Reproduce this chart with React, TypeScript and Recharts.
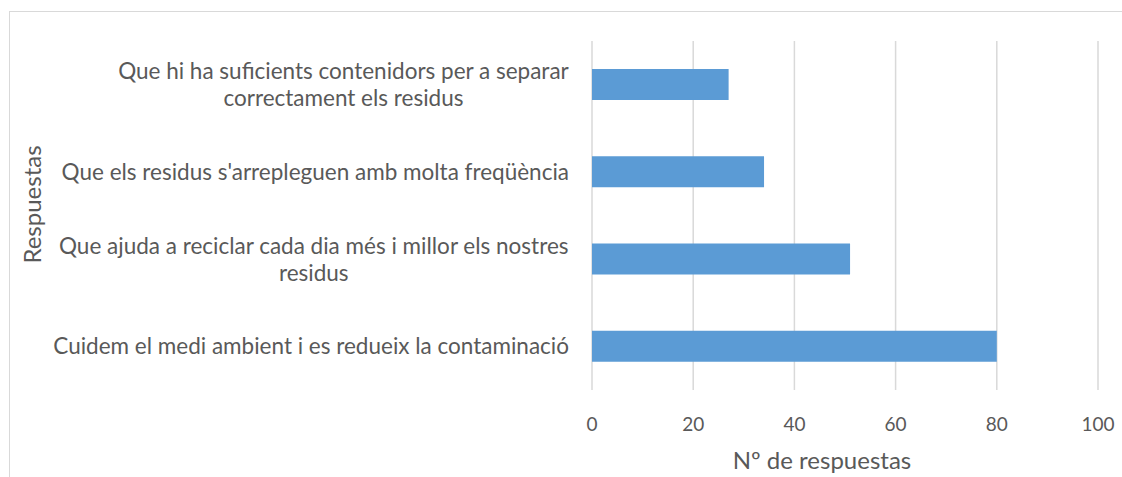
import React from 'react';
import { BarChart, Bar, XAxis, YAxis, CartesianGrid } from 'recharts';

const categories = [
  'Que hi ha suficients contenidors per a separar\ncorrectament els residus',
  "Que els residus s'arrepleguen amb molta freqüència",
  'Que ajuda a reciclar cada dia més i millor els nostres\nresidus',
  'Cuidem el medi ambient i es redueix la contaminació',
];
const responses = [27, 34, 51, 80];
const xTicks = [0, 20, 40, 60, 80, 100];

const data = categories.map((name, i) => ({ name, value: responses[i] }));

const FONT = 'Lato, "Open Sans", sans-serif';
const TEXT = '#595959';
const LABEL_SIZE = 22.5;
const TICK_SIZE = 19;
const TITLE_SIZE = 24;

let ctx: CanvasRenderingContext2D | null = null;
const measure = (s: string, size: number) => {
  if (!ctx) ctx = document.createElement('canvas').getContext('2d');
  if (!ctx) return s.length * size * 0.5;
  ctx.font = `${size}px ${FONT}`;
  return ctx.measureText(s).width;
};

const CategoryTick = ({ x, y, payload }: any) => {
  const lines: string[] = String(payload.value).split('\n');
  const lh = 27;
  const maxW = Math.max(...lines.map((l) => measure(l, LABEL_SIZE)));
  const cx = x - maxW / 2;
  return (
    <text fill={TEXT} fontSize={LABEL_SIZE} fontFamily={FONT}>
      {lines.map((l, i) => (
        <tspan
          key={i}
          x={cx}
          y={y + (i - (lines.length - 1) / 2) * lh}
          dy="0.35em"
          textAnchor="middle"
        >
          {l}
        </tspan>
      ))}
    </text>
  );
};

const XTitle = ({ viewBox }: any) => (
  <text
    x={viewBox.x + viewBox.width / 2 - 23}
    y={viewBox.y + 71}
    textAnchor="middle"
    dy="0.35em"
    fill={TEXT}
    fontSize={TITLE_SIZE}
    fontFamily={FONT}
  >
    Nº de respuestas
  </text>
);

const YTitle = ({ viewBox }: any) => {
  const cx = 33;
  const cy = viewBox.y + viewBox.height / 2 - 11;
  return (
    <text
      x={cx}
      y={cy}
      transform={`rotate(-90 ${cx} ${cy})`}
      textAnchor="middle"
      dy="0.35em"
      fill={TEXT}
      fontSize={TITLE_SIZE}
      fontFamily={FONT}
    >
      Respuestas
    </text>
  );
};

export default function App() {
  return (
    <div
      style={{
        position: 'fixed',
        left: 0,
        top: 0,
        width: 1122,
        height: 477,
        background: '#fff',
        overflow: 'hidden',
      }}
    >
      <div
        style={{
          position: 'absolute',
          left: 9,
          top: 11,
          width: 1200,
          height: 600,
          borderLeft: '1.5px solid #d9d9d9',
          borderTop: '1.5px solid #d9d9d9',
        }}
      />
      <BarChart
        width={1122}
        height={477}
        data={data}
        layout="vertical"
        margin={{ top: 41, right: 24, bottom: 0, left: 0 }}
        barCategoryGap={28}
        style={{ position: 'absolute', left: 0, top: 0 }}
      >
        <CartesianGrid horizontal={false} stroke="#d9d9d9" strokeWidth={1.5} />
        <XAxis
          type="number"
          domain={[0, 100]}
          ticks={xTicks}
          axisLine={false}
          tickLine={false}
          tickSize={0}
          tickMargin={28}
          tick={{ fill: TEXT, fontSize: TICK_SIZE, fontFamily: FONT }}
          label={<XTitle />}
          height={87}
        />
        <YAxis
          type="category"
          dataKey="name"
          width={592}
          axisLine={false}
          tickLine={false}
          tickSize={0}
          tickMargin={23}
          tick={<CategoryTick />}
          interval={0}
          label={<YTitle />}
        />
        <Bar dataKey="value" fill="#5b9bd5" isAnimationActive={false} />
      </BarChart>
    </div>
  );
}
